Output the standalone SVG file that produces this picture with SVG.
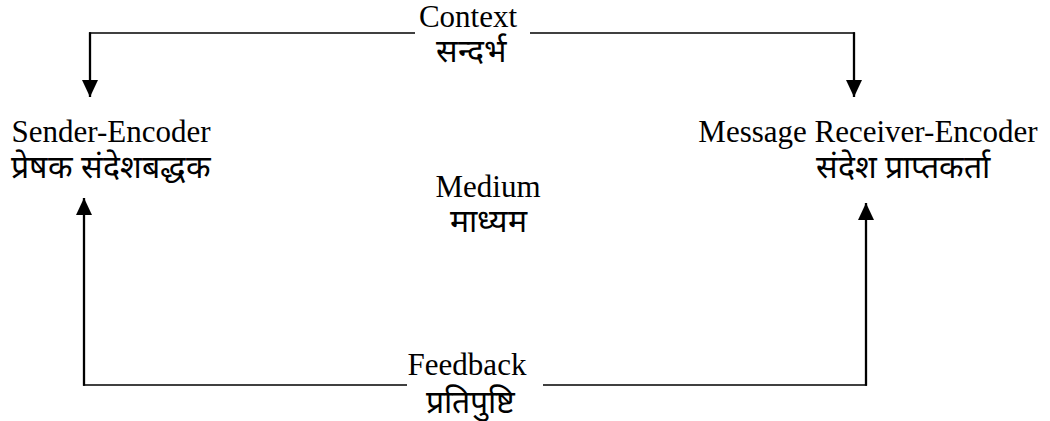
<svg xmlns="http://www.w3.org/2000/svg" width="1050" height="421" viewBox="0 0 1050 421">
<style>
text { font-family: "Liberation Serif", "Times New Roman", serif; font-size: 31px; fill: #000; text-anchor: middle; }
text.dv { font-size: 32px; font-weight: 300; }
.h { stroke: #000; stroke-width: 1.5; fill: none; }
.v { stroke: #000; stroke-width: 2.3; fill: none; }
</style>
<defs>
<marker id="arr" markerUnits="userSpaceOnUse" markerWidth="17" markerHeight="16" viewBox="0 0 17 16" refX="17" refY="8" orient="auto">
<path d="M0,0 L17,8 L0,16 Z" fill="#000"/>
</marker>
</defs>
<rect width="1050" height="421" fill="#fff"/>
<g id="connectors">
<line class="h" x1="415" y1="33" x2="89" y2="33"/>
<line class="v" x1="90" y1="32.3" x2="90" y2="97" marker-end="url(#arr)"/>
<line class="h" x1="530" y1="33" x2="855" y2="33"/>
<line class="v" x1="854" y1="32.3" x2="854" y2="97" marker-end="url(#arr)"/>
<line class="h" x1="407" y1="385" x2="83" y2="385"/>
<line class="v" x1="84" y1="385.7" x2="84" y2="198" marker-end="url(#arr)"/>
<line class="h" x1="543" y1="385" x2="867" y2="385"/>
<line class="v" x1="866" y1="385.7" x2="866" y2="203" marker-end="url(#arr)"/>
</g>
<g id="context">
<text x="468" y="27">Context</text>
<text class="dv" x="471" y="62">सन्दर्भ</text>
</g>
<g id="sender">
<text x="111" y="142">Sender-Encoder</text>
<text class="dv" x="111" y="178">प्रेषक संदेशबद्धक</text>
</g>
<g id="receiver">
<text x="868" y="142">Message Receiver-Encoder</text>
<text class="dv" x="903" y="178">संदेश प्राप्तकर्ता</text>
</g>
<g id="medium">
<text x="488" y="197">Medium</text>
<text class="dv" x="488" y="232">माध्यम</text>
</g>
<g id="feedback">
<text x="467" y="375">Feedback</text>
<text class="dv" x="470" y="413">प्रतिपुष्टि</text>
</g>
</svg>
